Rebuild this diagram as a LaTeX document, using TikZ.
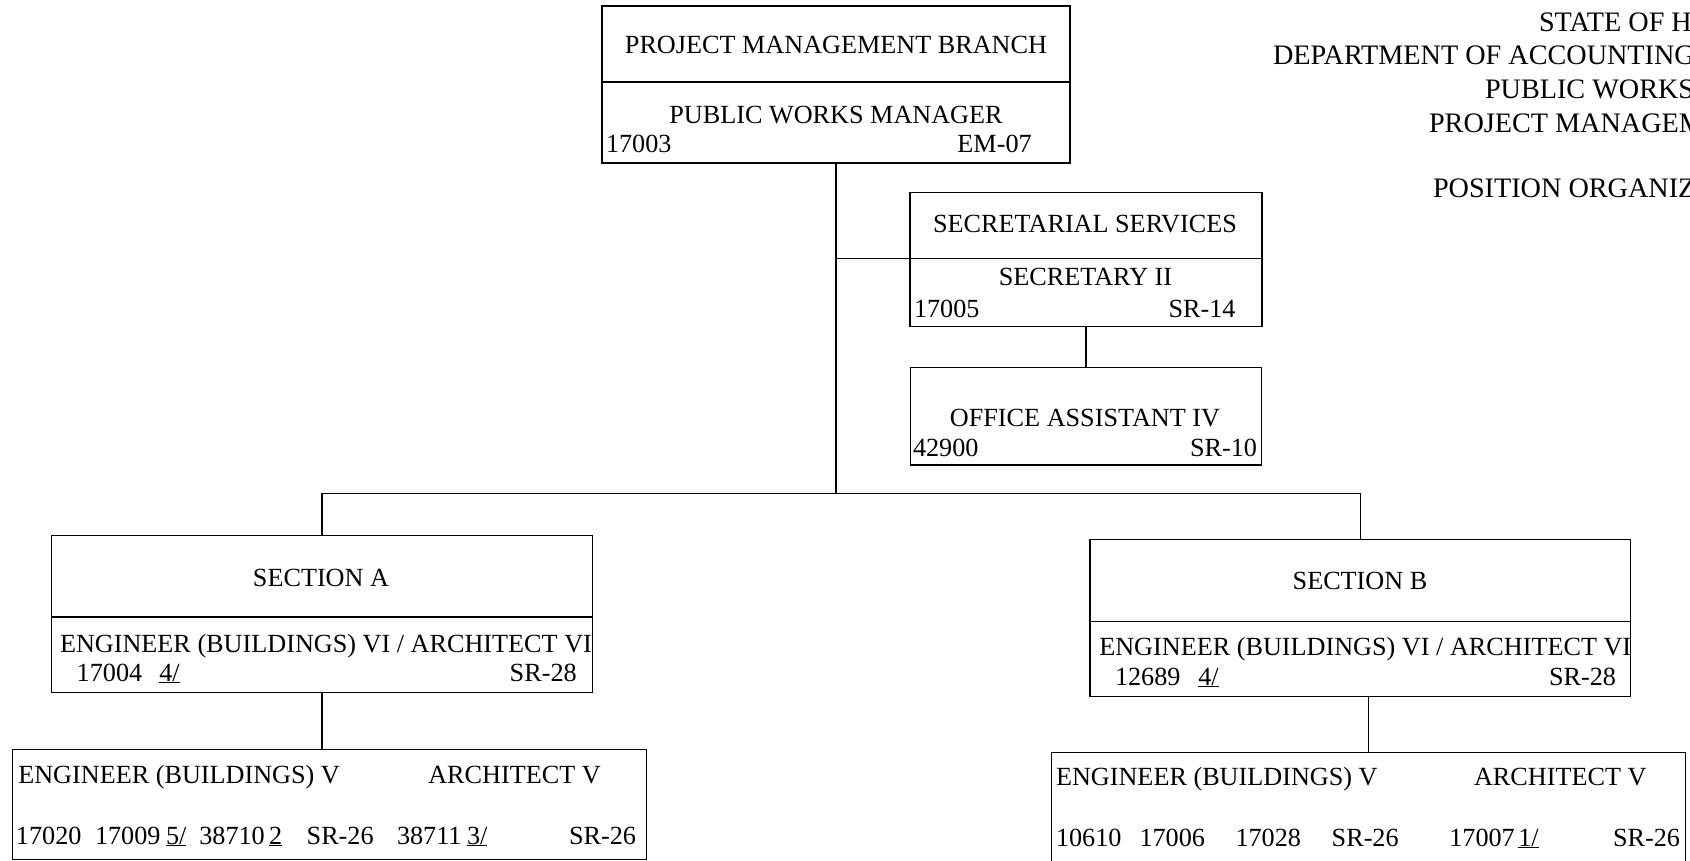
\documentclass[tikz,border=0pt]{standalone}
\usepackage{fontspec}
\setmainfont{Liberation Serif}
\newcommand\orgfs{\fontsize{26.2}{30}\selectfont}
\newcommand\ttlfs{\fontsize{28.2}{32}\selectfont}
\tikzset{
  orgbox/.style={draw, line width=1.5pt, inner sep=0pt, outer sep=0pt, anchor=north west},
  orgline/.style={line width=1.5pt},
  tx/.style={inner sep=0pt, outer sep=0pt, font=\orgfs},
  tl/.style={tx, anchor=base west},
  tr/.style={tx, anchor=base east},
  tc/.style={tx, anchor=base},
  ttl/.style={inner sep=0pt, outer sep=0pt, font=\ttlfs, anchor=base west},
}
\begin{document}
\begin{tikzpicture}[x=1pt,y=-1pt]
\useasboundingbox (0,0) rectangle (1690,861);
\clip (0,0) rectangle (1690,861);
\fill[white] (0,0) rectangle (1690,861);

% title (cut by the right edge)
\node[ttl] (h1) at (1539,31.5) {STATE OF H};
\node[ttl] (h2) at (1273,64.5) {DEPARTMENT OF ACCOUNTING};
\node[ttl] (h3) at (1485,98.5) {PUBLIC WORKS};
\node[ttl] (h4) at (1429,132.5) {PROJECT MANAGEM};
\node[ttl] (h5) at (1433,198) {POSITION ORGANIZ};

% boxes
\node[orgbox, minimum width=468pt, minimum height=157pt] (pm) at (602,6) {};
\node[orgbox, minimum width=352pt, minimum height=134pt] (sec) at (910,192.5) {};
\node[orgbox, minimum width=351pt, minimum height=97.5pt] (off) at (910.5,367.5) {};
\node[orgbox, minimum width=540.6pt, minimum height=156.6pt] (secA) at (51.7,535.7) {};
\node[orgbox, minimum width=540.7pt, minimum height=157.4pt] (secB) at (1090,539.3) {};
\node[orgbox, minimum width=634.4pt, minimum height=110pt] (lowA) at (12.3,749.3) {};
\node[orgbox, minimum width=634pt, minimum height=140pt] (lowB) at (1051.7,752.7) {};

% dividers
\draw[orgline] (pm.west |- 0,82) -- (pm.east |- 0,82);
\draw[orgline] (sec.west |- 0,258.3) -- (sec.east |- 0,258.3);
\draw[orgline] (secA.west |- 0,617) -- (secA.east |- 0,617);
\draw[orgline] (secB.west |- 0,621.7) -- (secB.east |- 0,621.7);

% connectors
\coordinate (secL) at (sec.west |- 0,258.3);
\coordinate (bus) at (pm.south |- 0,493.3);
\draw[orgline] (pm.south) -- (bus);
\draw[orgline] (pm.south |- secL) -- (secL);
\draw[orgline] (sec.south) -- (off.north);
\draw[orgline] (secA.north) |- (bus) -| (secB.north);
\draw[orgline] (secA.south) -- (secA.south |- lowA.north);
\draw[orgline] (lowB.north |- secB.south) -- (lowB.north);

% top box texts
\node[tc] (t1) at (836,54) {PROJECT MANAGEMENT BRANCH};
\node[tc] (t2) at (836,123.3) {PUBLIC WORKS MANAGER};
\node[tl] (t3) at (606,152.7) {17003};
\node[tr] (t4) at (1031.7,152.7) {EM-07};

% secretarial
\node[tc] (t5) at (1085,232.7) {SECRETARIAL SERVICES};
\node[tc] (t6) at (1085.5,286) {SECRETARY II};
\node[tl] (t7) at (914,317) {17005};
\node[tr] (t8) at (1235.5,317) {SR-14};

% office assistant
\node[tc] (t9) at (1085,426.7) {OFFICE ASSISTANT IV};
\node[tl] (t10) at (913,456) {42900};
\node[tr] (t11) at (1257,456) {SR-10};

% section A
\node[tc] (t12) at (321,586) {SECTION A};
\node[tl] (t13) at (60,652) {ENGINEER (BUILDINGS) VI / ARCHITECT VI};
\node[tl] (t14) at (76.7,681) {17004};
\node[tl] (t15) at (159.3,681) {\underline{4/}};
\node[tr] (t16) at (576.7,681) {SR-28};

% section B
\node[tc] (t17) at (1360,589.3) {SECTION B};
\node[tl] (t18) at (1099.3,655) {ENGINEER (BUILDINGS) VI / ARCHITECT VI};
\node[tl] (t19) at (1115,685) {12689};
\node[tl] (t20) at (1198.3,685) {\underline{4/}};
\node[tr] (t21) at (1616,685) {SR-28};

% lower A
\node[tl] (t22) at (18.3,783) {ENGINEER (BUILDINGS) V};
\node[tl] (t23) at (428.3,783) {ARCHITECT V};
\node[tl] (t24) at (16,844) {17020};
\node[tl] (t25) at (95,844) {17009};
\node[tl] (t26) at (166,844) {\underline{5/}};
\node[tl] (t27) at (199.3,844) {38710};
\node[tl] (t28) at (269,844) {\underline{2}};
\node[tl] (t29) at (306.7,844) {SR-26};
\node[tl] (t30) at (397,844) {38711};
\node[tl] (t31) at (467,844) {\underline{3/}};
\node[tr] (t32) at (636,844) {SR-26};

% lower B
\node[tl] (t33) at (1056,785.7) {ENGINEER (BUILDINGS) V};
\node[tl] (t34) at (1474,785.7) {ARCHITECT V};
\node[tl] (t35) at (1056,846) {10610};
\node[tl] (t36) at (1139.5,846) {17006};
\node[tl] (t37) at (1235.5,846) {17028};
\node[tl] (t38) at (1331.7,846) {SR-26};
\node[tl] (t39) at (1449.3,846) {17007};
\node[tl] (t40) at (1518.3,846) {\underline{1/}};
\node[tr] (t41) at (1680,846) {SR-26};
\end{tikzpicture}
\end{document}
